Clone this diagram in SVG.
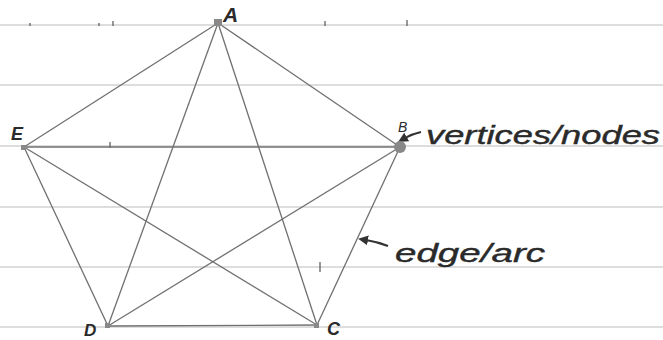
<svg xmlns="http://www.w3.org/2000/svg" width="663" height="340" viewBox="0 0 663 340">
  <defs>
    <style>
      .rule { stroke: #d2d2d2; stroke-width: 1.5; }
      .tick { stroke: #555; stroke-width: 1.2; }
      .edge { stroke: #707070; stroke-width: 1.3; fill: none; }
      .vertex { fill: #888; }
      .lbl { font-family: "Liberation Sans", "DejaVu Sans", sans-serif; font-style: italic; fill: #2a2a2a; }
      .note { font-family: "Liberation Sans", "DejaVu Sans", sans-serif; font-style: italic; fill: #2a2a2a; font-size: 26px; stroke: #2a2a2a; stroke-width: 0.4; }
      .pointer { stroke: #333; stroke-width: 2; fill: none; }
    </style>
    <marker id="head" viewBox="0 0 10 10" refX="2" refY="5" markerWidth="5" markerHeight="5" orient="auto-start-reverse">
      <path d="M0,0 L10,5 L0,10 z" fill="#333"/>
    </marker>
  </defs>
  <rect width="663" height="340" fill="#ffffff"/>
  <g id="paper">
    <line class="rule" x1="0" y1="25" x2="663" y2="25"/>
    <line class="rule" x1="0" y1="85" x2="663" y2="85"/>
    <line class="rule" x1="0" y1="146" x2="663" y2="146"/>
    <line class="rule" x1="0" y1="207" x2="663" y2="207"/>
    <line class="rule" x1="0" y1="267" x2="663" y2="267"/>
    <line class="rule" x1="0" y1="327" x2="663" y2="327"/>
    <line class="tick" x1="30" y1="23" x2="30" y2="26"/>
    <line class="tick" x1="99" y1="23" x2="99" y2="26"/>
    <line class="tick" x1="113" y1="21" x2="113" y2="26"/>
    <line class="tick" x1="325" y1="21" x2="325" y2="26"/>
    <line class="tick" x1="407" y1="20" x2="407" y2="26"/>
    <line class="tick" x1="110" y1="142" x2="110" y2="148"/>
    <line class="tick" x1="320" y1="262" x2="320" y2="272"/>
  </g>
  <g id="connectors">
    <line class="edge" x1="218" y1="23" x2="400" y2="147"/>
    <line class="edge" x1="218" y1="23" x2="317" y2="325"/>
    <line class="edge" x1="218" y1="23" x2="108" y2="326"/>
    <line class="edge" x1="218" y1="23" x2="24" y2="147"/>
    <line class="edge" x1="400" y1="147" x2="317" y2="325"/>
    <line class="edge" x1="400" y1="147" x2="108" y2="326"/>
    <line class="edge" x1="400" y1="147" x2="24" y2="147"/>
    <line class="edge" x1="317" y1="325" x2="108" y2="326"/>
    <line class="edge" x1="317" y1="325" x2="24" y2="147"/>
    <line class="edge" x1="108" y1="326" x2="24" y2="147"/>
    <path class="pointer" d="M421,132 Q412,134 405,138" marker-end="url(#head)"/>
    <path class="pointer" d="M388,246 Q378,242 366,240" marker-end="url(#head)"/>
  </g>
  <g id="node-A">
    <rect class="vertex" x="214" y="19" width="8" height="7"/>
    <text class="lbl" x="223" y="22" font-size="21" font-weight="bold">A</text>
  </g>
  <g id="node-B">
    <circle class="vertex" cx="400" cy="147" r="6"/>
    <text class="lbl" x="398" y="132" font-size="14">B</text>
  </g>
  <g id="node-C">
    <rect class="vertex" x="314" y="323" width="5" height="5"/>
    <text class="lbl" x="327" y="335" font-size="18" font-weight="bold">C</text>
  </g>
  <g id="node-D">
    <rect class="vertex" x="105" y="323" width="5" height="5"/>
    <text class="lbl" x="84" y="336" font-size="17" font-weight="bold">D</text>
  </g>
  <g id="node-E">
    <rect class="vertex" x="21" y="145" width="5" height="5"/>
    <text class="lbl" x="11" y="140" font-size="18" font-weight="bold">E</text>
  </g>
  <g id="annotations">
    <text class="note" x="426" y="144" textLength="234" lengthAdjust="spacingAndGlyphs">vertices/nodes</text>
    <text class="note" x="395" y="262" textLength="150" lengthAdjust="spacingAndGlyphs">edge/arc</text>
  </g>
</svg>
